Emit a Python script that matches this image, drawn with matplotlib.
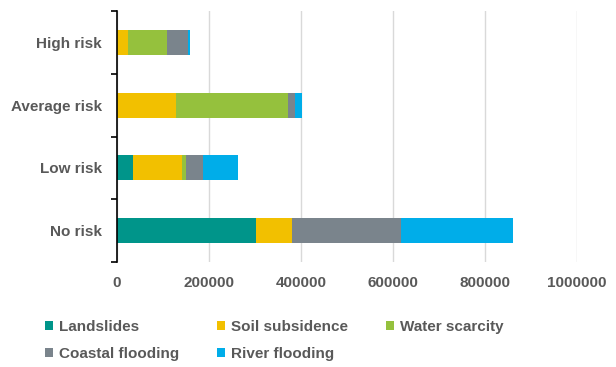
import matplotlib
matplotlib.use("Agg")
import matplotlib.pyplot as plt
import numpy as np

categories = ["No risk", "Low risk", "Average risk", "High risk"]
series_names = ["Landslides", "Soil subsidence", "Water scarcity", "Coastal flooding", "River flooding"]
landslides = [302000, 35000, 0, 0]
soil_subsidence = [78000, 107000, 127600, 24000]
water_scarcity = [0, 8000, 245000, 85000]
coastal_flooding = [238000, 37600, 15000, 45000]
river_flooding = [243000, 76000, 15500, 4000]
xticks = [0, 200000, 400000, 600000, 800000, 1000000]

colors = ["#00958a", "#f2c000", "#95c13d", "#7a848c", "#00ade9"]
text_color = "#595959"

plt.rcParams['font.family'] = ['Liberation Sans', 'DejaVu Sans']
plt.rcParams['font.weight'] = 'bold'
fs = 11

fig = plt.figure(figsize=(6.16, 3.67), dpi=100)
ax = fig.add_axes([117/616, 1 - 262/367, (577-117)/616, (262-11)/367])

data = [landslides, soil_subsidence, water_scarcity, coastal_flooding, river_flooding]
y = np.arange(len(categories))
left = np.zeros(len(categories))
for name, vals, c in zip(series_names, data, colors):
    vals = np.array(vals, dtype=float)
    ax.barh(y, vals, left=left, height=0.4, color=c, label=name, zorder=3)
    left += vals

ax.set_ylim(-0.5, len(categories) - 0.5)
ax.set_xlim(0, 1000000)
ax.set_yticks(y)
ax.set_yticklabels(categories, fontsize=fs, color=text_color, fontweight='bold')
ax.set_yticks(np.arange(-0.5, len(categories)), minor=True)
ax.tick_params(axis='y', which='major', length=0, pad=11)
ax.tick_params(axis='y', which='minor', length=4, width=1.2, color='black')
ax.set_xticks(xticks)
ax.set_xticklabels([str(v) for v in xticks], fontsize=fs, color=text_color, fontweight='bold')
ax.tick_params(axis='x', length=0, pad=10)
ax.grid(axis='x', color='#d9d9d9', linewidth=1, zorder=0)
for s in ['top', 'right', 'bottom']:
    ax.spines[s].set_visible(False)
ax.spines['left'].set_linewidth(1.2)
ax.spines['left'].set_zorder(4)

handles, labels = ax.get_legend_handles_labels()
order = [0, 3, 1, 4, 2]
leg = fig.legend([handles[i] for i in order], [labels[i] for i in order],
                 loc='upper left', bbox_to_anchor=(45/616, 1 - 320/367),
                 ncol=3, frameon=False, fontsize=fs, handlelength=0.55, handleheight=0.55,
                 handletextpad=0.35, columnspacing=2.5, labelspacing=0.85, borderaxespad=0, borderpad=0)
for t in leg.get_texts():
    t.set_color(text_color)
    t.set_fontweight('bold')

fig.savefig("out.png", dpi=100)
